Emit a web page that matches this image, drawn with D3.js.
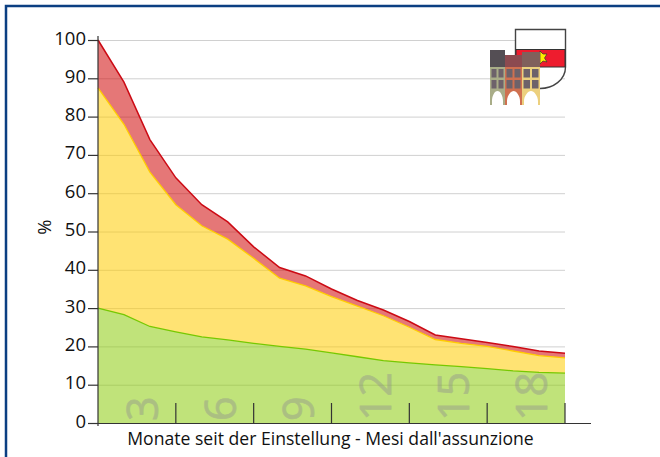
<!DOCTYPE html>
<html><head><meta charset="utf-8">
<script src="https://cdn.jsdelivr.net/npm/d3@7/dist/d3.min.js"></script>
<style>html,body{margin:0;padding:0;background:#fff;overflow:hidden}svg{display:block}text{font-family:"Open Sans",sans-serif}</style>
</head><body><div id="c"></div>
<script>
const months=d3.range(0,19);
const redTop=[100,89,74,64,57,52.5,46,40.6,38.4,35,32,29.5,26.5,23,22,21,20,18.8,18.2];
const yellowTop=[87.5,78,65.5,57,51.5,48,43,37.8,35.8,33,30.5,28,25,21.8,20.8,20,18.8,17.6,17];
const greenTop=[30,28.3,25.2,23.8,22.5,21.7,20.8,20,19.3,18.3,17.3,16.3,15.7,15.2,14.7,14.2,13.6,13.2,13];
const yTicks=d3.range(0,101,10);
const xTicks=[3,6,9,12,15,18];
const xTitle="Monate seit der Einstellung - Mesi dall'assunzione";
const yTitle="%";

const W=660,H=457;
const svg=d3.select("#c").append("svg").attr("width",W).attr("height",H);
const x=d3.scaleLinear().domain([0,18]).range([98,565]);
const y=d3.scaleLinear().domain([0,100]).range([423,40]);

svg.append("rect").attr("x",6).attr("y",6).attr("width",W+20).attr("height",H+20)
  .attr("fill","#fff").attr("stroke","#0b3f82").attr("stroke-width",2.5);

// grid
svg.append("g").selectAll("line").data(yTicks.filter(d=>d>0)).join("line")
  .attr("x1",x(0)).attr("x2",x(18)).attr("y1",d=>y(d)+.5).attr("y2",d=>y(d)+.5)
  .attr("stroke","#d0d0d0").attr("stroke-width",1);

// logo
const logo=svg.append("g");
logo.append("path").attr("d","M515.5 29.5H565.5V67C565.5 80 553 88.5 540 88.5C530 88.5 520 84 515.5 76Z").attr("fill","#fff").attr("stroke","#444").attr("stroke-width",1.4);
logo.append("rect").attr("x",516).attr("y",49.5).attr("width",49).attr("height",17.5).attr("fill","#ee1c2e").attr("stroke","#333").attr("stroke-width",1);
logo.append("path").attr("d","M540 51L543 54L547 54L544.5 58L547 62L543 61L540 64Z").attr("fill","#ffee00").attr("stroke","#333").attr("stroke-width",.7);
const houses=[[490,505,50,"#544e54","#a9ad88"],[505,522,55,"#8c4a50","#cf7050"],[522,540,52,"#80605c","#ecd07e"]];
houses.forEach(h=>{
  const [a,b,t,top,low]=h,w=b-a,m=(a+b)/2;
  logo.append("rect").attr("x",a).attr("y",t).attr("width",w).attr("height",67-t).attr("fill",top);
  logo.append("path").attr("d",`M${a} 67H${b}V105H${b-2}V101C${b-2} 96 ${m+3} 91 ${m} 91C${m-3} 91 ${a+2} 96 ${a+2} 101V105H${a}Z`).attr("fill",low);
  [69,80].forEach(r=>[a+1.5,m+1].forEach(c=>logo.append("rect").attr("x",c).attr("y",r).attr("width",w/2-2.5).attr("height",8.5).attr("fill","#6d626a")));
});

// bands
const band=(lo,hi)=>d3.area().x((d,i)=>x(months[i])).y0((d,i)=>y(lo?lo[i]:0)).y1((d,i)=>y(hi[i]))(months);
const line=s=>d3.line().x((d,i)=>x(months[i])).y((d,i)=>y(s[i]))(months);
svg.append("path").attr("d",band(yellowTop,redTop)).attr("fill","#d00808").attr("fill-opacity",.55);
svg.append("path").attr("d",band(greenTop,yellowTop)).attr("fill","#ffcc00").attr("fill-opacity",.55);
svg.append("path").attr("d",band(null,greenTop)).attr("fill","#8ccc0d").attr("fill-opacity",.55);
svg.append("path").attr("d",line(yellowTop)).attr("fill","none").attr("stroke","#ffcc00").attr("stroke-width",1.3);
svg.append("path").attr("d",line(greenTop)).attr("fill","none").attr("stroke","#77c800").attr("stroke-width",1.3);
svg.append("path").attr("d",line(redTop)).attr("fill","none").attr("stroke","#cc0a14").attr("stroke-width",1.5);

// rotated month labels
svg.append("g").attr("opacity",.42).selectAll("text").data(xTicks).join("text")
  .attr("transform",d=>`translate(${x(d)-18},421) rotate(-90)`)
  .attr("fill","#8f8f8f").attr("stroke","#8f8f8f").attr("stroke-width",.7).attr("font-size",43)
  .text(d=>d);

// axes
const ax=svg.append("g").attr("stroke","#333").attr("stroke-width",1.2);
ax.append("line").attr("x1",x(0)).attr("x2",x(0)).attr("y1",36).attr("y2",426);
ax.append("line").attr("x1",x(0)).attr("x2",591).attr("y1",y(0)+.5).attr("y2",y(0)+.5);
ax.selectAll(".yt").data(yTicks).join("line").attr("class","yt")
  .attr("x1",88).attr("x2",x(0)).attr("y1",d=>y(d)+.5).attr("y2",d=>y(d)+.5);
ax.selectAll(".xt").data(xTicks).join("line").attr("class","xt")
  .attr("x1",d=>x(d)).attr("x2",d=>x(d)).attr("y1",403).attr("y2",y(0));

svg.append("g").selectAll("text").data(yTicks).join("text")
  .attr("x",86).attr("y",d=>y(d)+4.5).attr("text-anchor","end").attr("font-size",18.5).attr("fill","#111").text(d=>d);
svg.append("text").attr("transform","translate(51,227) rotate(-90)").attr("text-anchor","middle").attr("font-size",18.5).attr("fill","#111").text(yTitle);
svg.append("text").attr("x",330.5).attr("y",445).attr("text-anchor","middle").attr("font-size",17.6).attr("fill","#111").text(xTitle);
</script></body></html>
